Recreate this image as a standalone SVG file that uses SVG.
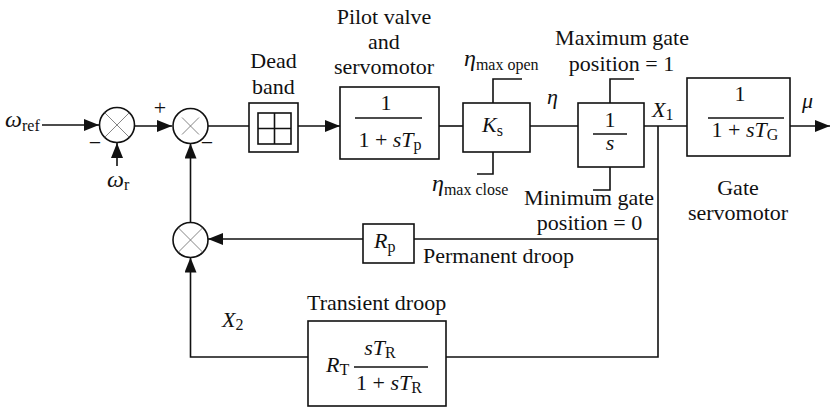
<svg xmlns="http://www.w3.org/2000/svg" width="831" height="407" viewBox="0 0 831 407">
  <style>
    text { font-family: "Liberation Serif", "DejaVu Serif", serif; font-size: 22px; fill: #111; }
    .i { font-style: italic; }
    .sub { font-size: 16px; }
    .c { text-anchor: middle; }
    .blk { fill: #fff; stroke: #111; stroke-width: 1.6; }
    .ln { fill: none; stroke: #111; stroke-width: 1.6; }
    .sum { fill: #fff; stroke: #111; stroke-width: 1.6; }
    .x { stroke: #666; stroke-width: 0.8; }
  </style>
  <defs>
    <marker id="ah" markerUnits="userSpaceOnUse" markerWidth="15" markerHeight="12" refX="15" refY="6" orient="auto">
      <path d="M0,0 L15,6 L0,12 z" fill="#111"/>
    </marker>
  </defs>

  <!-- connectors -->
  <g id="connectors">
    <line class="ln" x1="42" y1="125" x2="99" y2="125" marker-end="url(#ah)"/>
    <line class="ln" x1="117" y1="166" x2="117" y2="143" marker-end="url(#ah)"/>
    <line class="ln" x1="134.5" y1="126" x2="172" y2="126" marker-end="url(#ah)"/>
    <line class="ln" x1="208" y1="126" x2="249" y2="126"/>
    <line class="ln" x1="298" y1="126" x2="340" y2="126" marker-end="url(#ah)"/>
    <line class="ln" x1="439" y1="126" x2="463" y2="126"/>
    <line class="ln" x1="530" y1="126" x2="578" y2="126"/>
    <line class="ln" x1="644" y1="126" x2="687" y2="126"/>
    <line class="ln" x1="790" y1="126" x2="830" y2="126" marker-end="url(#ah)"/>
    <!-- feedback take-off -->
    <polyline class="ln" points="658,126 658,357 446,357"/>
    <line class="ln" x1="658" y1="239" x2="414" y2="239"/>
    <line class="ln" x1="363" y1="239" x2="208" y2="239" marker-end="url(#ah)"/>
    <polyline class="ln" points="308,357 190.5,357 190.5,257.5" marker-end="url(#ah)"/>
    <line class="ln" x1="190.5" y1="222.5" x2="190.5" y2="143.5" marker-end="url(#ah)"/>
    <!-- limiters -->
    <polyline class="ln" points="493,103 493,79 522,79"/>
    <polyline class="ln" points="493,152 493,174 477,174"/>
    <polyline class="ln" points="610,103 610,79 634,79"/>
    <polyline class="ln" points="610,167 610,190 593,190"/>
  </g>

  <!-- input labels -->
  <g id="inputs">
    <text x="5" y="127"><tspan class="i" font-size="24">ω</tspan><tspan class="sub" dy="4">ref</tspan></text>
    <text x="107" y="187"><tspan class="i" font-size="24">ω</tspan><tspan class="sub" dy="3">r</tspan></text>
    <text x="160" y="115" class="c">+</text>
    <text x="95" y="150" class="c">−</text>
    <text x="207" y="150" class="c">−</text>
  </g>

  <g id="sum1">
    <circle class="sum" cx="117" cy="125" r="17.5"/>
    <line class="x" x1="104.6" y1="112.6" x2="129.4" y2="137.4"/>
    <line class="x" x1="129.4" y1="112.6" x2="104.6" y2="137.4"/>
  </g>

  <g id="sum2">
    <circle class="sum" cx="190.5" cy="126" r="17.5"/>
    <line class="x" x1="182" y1="117.5" x2="199" y2="134.5"/>
    <line class="x" x1="199" y1="117.5" x2="182" y2="134.5"/>
  </g>

  <g id="sum3">
    <circle class="sum" cx="190.5" cy="240" r="17.5"/>
    <line class="x" x1="178.1" y1="227.6" x2="202.9" y2="252.4"/>
    <line class="x" x1="202.9" y1="227.6" x2="178.1" y2="252.4"/>
  </g>

  <g id="deadband">
    <rect class="blk" x="249" y="103" width="49" height="49"/>
    <rect class="blk" x="258" y="113" width="33" height="31"/>
    <line class="ln" x1="274.5" y1="113" x2="274.5" y2="144"/>
    <line class="ln" x1="258" y1="128.5" x2="291" y2="128.5"/>
    <text x="273.5" y="68" class="c">Dead</text>
    <text x="273.5" y="94" class="c">band</text>
  </g>

  <g id="pilot">
    <rect class="blk" x="340" y="87" width="99" height="72"/>
    <text x="386" y="110" class="c">1</text>
    <line class="ln" x1="355" y1="118" x2="422" y2="118"/>
    <text x="390" y="147" class="c">1 + <tspan class="i">sT</tspan><tspan class="sub" dy="3">p</tspan></text>
    <text x="384" y="24" class="c">Pilot valve</text>
    <text x="384" y="49" class="c">and</text>
    <text x="384" y="74" class="c">servomotor</text>
  </g>

  <g id="ks">
    <rect class="blk" x="463" y="103" width="67" height="49"/>
    <text x="482" y="132"><tspan class="i">K</tspan><tspan class="sub" dy="4">s</tspan></text>
    <text x="464" y="66"><tspan class="i" font-size="24">η</tspan><tspan class="sub" dy="4">max open</tspan></text>
    <text x="432" y="191"><tspan class="i" font-size="24">η</tspan><tspan class="sub" dy="4">max close</tspan></text>
    <text x="547" y="104" class="i" font-size="24">η</text>
  </g>

  <g id="integrator">
    <rect class="blk" x="578" y="103" width="66" height="64"/>
    <text x="610" y="127" class="c" font-size="20">1</text>
    <line class="ln" x1="593" y1="134" x2="627" y2="134"/>
    <text x="610" y="150" class="c i" font-size="20">s</text>
    <text x="622" y="45" class="c">Maximum gate</text>
    <text x="621.5" y="71" class="c">position = 1</text>
    <text x="589" y="205" class="c">Minimum gate</text>
    <text x="589.5" y="230" class="c">position = 0</text>
    <text x="652" y="117"><tspan class="i">X</tspan><tspan class="sub" dy="3">1</tspan></text>
  </g>

  <g id="gate">
    <rect class="blk" x="687" y="78" width="103" height="78"/>
    <text x="740" y="101" class="c">1</text>
    <line class="ln" x1="708" y1="118" x2="784" y2="118"/>
    <text x="745" y="137" class="c">1 + <tspan class="i">sT</tspan><tspan class="sub" dy="3">G</tspan></text>
    <text x="802" y="108" class="i">μ</text>
    <text x="738" y="195" class="c">Gate</text>
    <text x="738" y="220" class="c">servomotor</text>
  </g>

  <g id="rp">
    <rect class="blk" x="363" y="224" width="51" height="39"/>
    <text x="374" y="248"><tspan class="i">R</tspan><tspan class="sub" dy="4">p</tspan></text>
    <text x="423" y="263">Permanent droop</text>
  </g>

  <g id="transient">
    <rect class="blk" x="308" y="321" width="138" height="85"/>
    <text x="307" y="310">Transient droop</text>
    <text x="326" y="372"><tspan class="i">R</tspan><tspan class="sub" dy="3">T</tspan></text>
    <text x="380" y="355" class="c"><tspan class="i">sT</tspan><tspan class="sub" dy="3">R</tspan></text>
    <line class="ln" x1="354" y1="367" x2="428" y2="367"/>
    <text x="389" y="390" class="c">1 + <tspan class="i">sT</tspan><tspan class="sub" dy="3">R</tspan></text>
    <text x="222" y="327"><tspan class="i">X</tspan><tspan class="sub" dy="3">2</tspan></text>
  </g>
</svg>
